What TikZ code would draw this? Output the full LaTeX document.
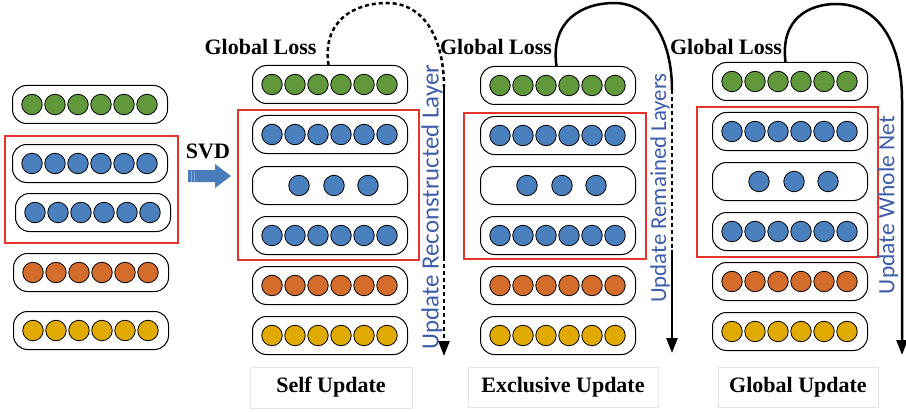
\documentclass[tikz,border=0pt]{standalone}
\usepackage{fontspec}
\setmainfont{Liberation Serif}
\newfontfamily\calib{Carlito}
\usetikzlibrary{calc,arrows.meta}
\definecolor{cgreen}{RGB}{98,152,60}
\definecolor{cblue}{RGB}{75,128,190}
\definecolor{corange}{RGB}{212,108,44}
\definecolor{cyellow}{RGB}{225,170,0}
\definecolor{cred}{RGB}{228,52,44}
\definecolor{ctext}{RGB}{62,92,172}
\definecolor{carrow}{RGB}{72,124,186}
\definecolor{cline}{RGB}{226,230,240}
\tikzset{
  layerbox/.style={draw=black, line width=1pt, rounded corners=14pt, minimum width=155pt, minimum height=38pt, inner sep=0pt, fill=white, anchor=north west},
  neuron/.style={circle, draw=black, line width=0.8pt, minimum size=20.5pt, inner sep=0pt},
  redbox/.style={draw=cred, line width=2pt},
  lossl/.style={font=\fontsize{22}{26}\selectfont\bfseries, inner sep=0pt},
  capbox/.style={draw=cline, line width=0.8pt, font=\fontsize{22}{26}\selectfont\bfseries, inner sep=0pt},
  sidel/.style={text=ctext, rotate=90, inner sep=0pt},
  flow/.style={line width=2.5pt, black},
  flowdash/.style={flow, dash pattern=on 4pt off 3pt},
  tip/.style={-{Triangle[length=15pt,width=11pt]}},
}
\newcommand{\fullrow}[4]{%
  \node[layerbox] (#1) at (#2,#3) {};
  \foreach \i in {0,...,5} \node[neuron, fill=#4] (#1-\i) at ($(#1.west)+(20+23*\i,0)$) {};
}
\newcommand{\midrow}[3]{%
  \node[layerbox] (#1) at (#2,#3) {};
  \foreach \i/\d in {0/47,1/82,2/116} \node[neuron, fill=cblue] (#1-\i) at ($(#1.west)+(\d,0)$) {};
}
\begin{document}
\begin{tikzpicture}[x=1pt,y=-1pt]
\useasboundingbox (0,0) rectangle (906,412);
% left column
\fullrow{l1}{12}{85}{cgreen}
\fullrow{l2}{12}{144}{cblue}
\fullrow{l3}{15}{193}{cblue}
\fullrow{l4}{13}{253}{corange}
\fullrow{l5}{13}{311}{cyellow}
\draw[redbox] (5,136) rectangle (178,243);
% SVD
\node[lossl] (svd) at (208,151) {SVD};
\fill[carrow] (188,170) -- (215,170) -- (215,164) -- (231,176) -- (215,188) -- (215,182) -- (188,182) -- cycle;
\draw[white, opacity=0.35, line width=0.6pt] (191,170.5) -- (191,181.5) (194,170.5) -- (194,181.5);
% column 1
\fullrow{a1}{252}{65}{cgreen}
\fullrow{a2}{252}{115}{cblue}
\midrow{a3}{252}{166}
\fullrow{a4}{252}{216}{cblue}
\fullrow{a5}{252}{266}{corange}
\fullrow{a6}{252}{316}{cyellow}
\draw[redbox] (238,110) rectangle (419,260);
% column 2
\fullrow{b1}{480}{66}{cgreen}
\fullrow{b2}{480}{116}{cblue}
\midrow{b3}{480}{166}
\fullrow{b4}{480}{216}{cblue}
\fullrow{b5}{480}{266}{corange}
\fullrow{b6}{480}{316}{cyellow}
\draw[redbox] (464,113) rectangle (646,259);
% column 3
\fullrow{c1}{712}{62}{cgreen}
\fullrow{c2}{712}{112}{cblue}
\midrow{c3}{712}{162}
\fullrow{c4}{712}{212}{cblue}
\fullrow{c5}{712}{262}{corange}
\fullrow{c6}{712}{312}{cyellow}
\draw[redbox] (697,107) rectangle (878,257);
% Global Loss labels
\node[lossl] (gl1) at (260.5,47) {Global Loss};
\node[lossl] (gl2) at (496,47) {Global Loss};
\node[lossl] (gl3) at (726,47) {Global Loss};
% caption boxes
\node[capbox, minimum width=162pt, minimum height=41pt] (cap1) at (331,387.5) {Self Update};
\node[capbox, minimum width=190pt, minimum height=40pt] (cap2) at (563,387) {Exclusive Update};
\node[capbox, minimum width=160pt, minimum height=40pt] (cap3) at (798,387) {Global Update};
% flow arrows
\coordinate (s1) at ($(a1.north)+(-1.5,0)$);
\coordinate (v1) at (444,87);
\coordinate (m1) at (444,257);
\coordinate (t1) at (444,356);
\draw[flowdash] (s1) .. controls (322,20) and (355,3) .. (387,3) .. controls (425,3) and (444,40) .. (v1);
\draw[flow] (v1) -- (m1);
\draw[flowdash, tip] (m1) -- (t1);
\coordinate (s2) at ($(b1.north)+(-1.5,0)$);
\coordinate (v2) at (672,90);
\coordinate (m2) at (672,250);
\coordinate (t2) at (672,353);
\draw[flow] (s2) .. controls (550,20) and (583,3) .. (614,3) .. controls (652,3) and (672,42) .. (v2);
\draw[flowdash] (v2) -- (m2);
\draw[flow, tip] (m2) -- (t2);
\coordinate (s3) at ($(c1.north)+(-4.5,0)$);
\coordinate (t3) at (902,355);
\draw[flow, tip] (s3) .. controls (780,18) and (810,4) .. (836,4) .. controls (880,4) and (902,45) .. (902,100) -- (t3);
% side labels
\node[sidel, font=\calib\fontsize{24.8}{28}\selectfont] (u1) at (432,207) {Update Reconstructed Layer};
\node[sidel, font=\calib\fontsize{22.8}{26}\selectfont] (u2) at (660,188) {Update Remained Layers};
\node[sidel, font=\calib\fontsize{23.5}{27}\selectfont] (u3) at (888,205) {Update Whole Net};
\end{tikzpicture}
\end{document}
